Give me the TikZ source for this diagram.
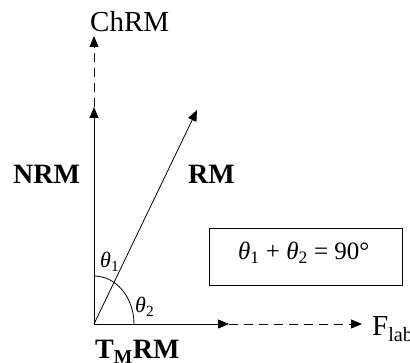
\documentclass[tikz,border=0pt]{standalone}
\usepackage{fontspec}
\setmainfont{Liberation Serif}
\usetikzlibrary{arrows.meta}
\begin{document}
\begin{tikzpicture}[x=1pt,y=1pt,
  vec/.style={line width=0.8pt,-{Triangle[length=11pt,width=9pt]}},
  dvec/.style={vec,dash pattern=on 9pt off 6pt},
  lbl/.style={inner sep=0pt,anchor=base west,font=\fontsize{29}{34}\selectfont},
  blbl/.style={lbl,font=\fontsize{28}{34}\selectfont\bfseries},
  glbl/.style={inner sep=0pt,anchor=base west,font=\fontsize{22}{26}\selectfont}]
\useasboundingbox (0,0) rectangle (410,363);
\coordinate (o) at (94,39);
\coordinate (nrmtip) at (94,256);
\coordinate (chrmtip) at (94,327);
\coordinate (rmtip) at (197,253);
\coordinate (htip) at (229,39);
\coordinate (ftip) at (362,39);
\draw[vec] (o) -- (nrmtip);
\draw[dvec] (nrmtip) -- (chrmtip);
\draw[vec] (o) -- (rmtip);
\draw[vec] (o) -- (htip);
\draw[dvec] (htip) -- (ftip);
\draw[line width=0.8pt] (94,87) arc[start angle=90,end angle=0,x radius=40pt,y radius=48pt];
\node[lbl] (chrm) at (90,331) {ChRM};
\node[blbl] (nrm) at (13,179) {NRM};
\node[blbl] (rm) at (188,179) {RM};
\node[blbl] (tmrm) at (95,4) {T\textsubscript{M}RM};
\node[lbl] (flab) at (372,27) {F\textsubscript{lab}};
\node[glbl] (t1) at (100,95) {\itshape θ\textsubscript{\upshape 1}};
\node[glbl] (t2) at (135,50) {\itshape θ\textsubscript{\upshape 2}};
\node[draw,line width=0.8pt,minimum width=193pt,minimum height=57pt,inner sep=0pt] (box) at (305.5,106.5) {};
\node[glbl,font=\fontsize{25}{30}\selectfont] (eq) at (238,103) {{\itshape θ}\textsubscript{1} + {\itshape θ}\textsubscript{2} = 90°};
\end{tikzpicture}
\end{document}
